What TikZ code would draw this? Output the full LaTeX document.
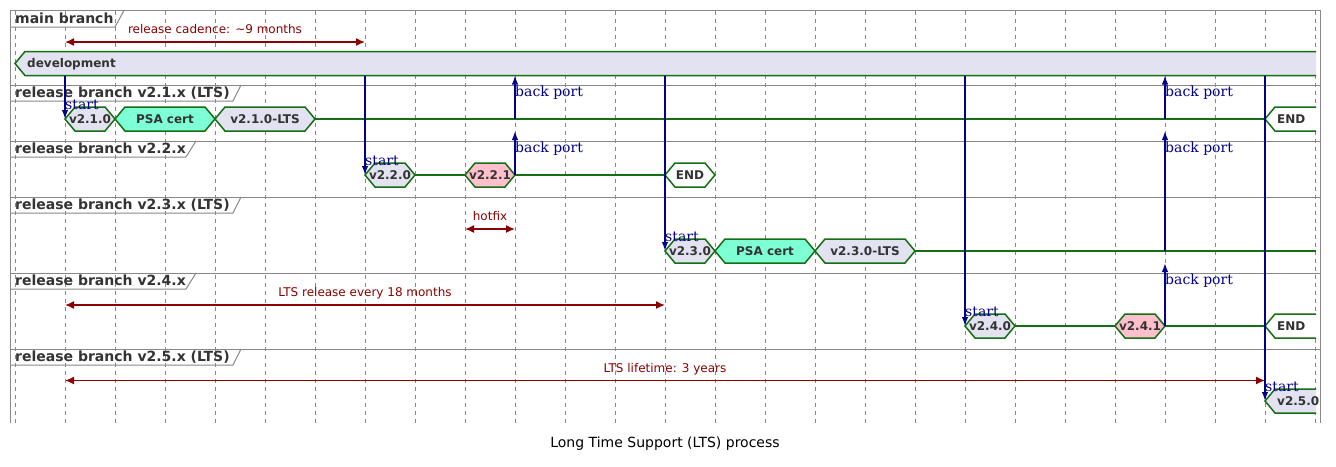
\documentclass[tikz,border=0pt]{standalone}
\usepackage{fontspec}
\setmainfont{DejaVu Sans}
\newfontfamily\notefont{DejaVu Serif}
\usetikzlibrary{arrows.meta,calc}

\definecolor{sigcolor}{RGB}{20,110,20}
\definecolor{lavender}{RGB}{226,226,240}
\definecolor{aqua}{RGB}{127,255,212}
\definecolor{pinkfill}{RGB}{255,192,203}
\definecolor{msgblue}{RGB}{0,0,139}
\definecolor{notered}{RGB}{139,0,0}
\definecolor{titlegray}{RGB}{51,51,51}
\definecolor{framegray}{RGB}{136,136,136}

\tikzset{
  frameline/.style={framegray, line width=1pt},
  gridline/.style={framegray, line width=0.8pt, dash pattern=on 4pt off 4pt},
  stateline/.style={sigcolor, line width=1.5pt, line join=miter},
  sigline/.style={sigcolor, line width=1.5pt},
  statetext/.style={text=titlegray, font=\fontsize{12}{14}\bfseries, inner sep=0pt, text height=8.8pt, text depth=0pt},
  rowtitle/.style={text=titlegray, font=\fontsize{14}{16}\bfseries, inner sep=0pt, anchor=base west},
  msgarrow/.style={msgblue, line width=1.5pt, -{Latex[length=9pt,width=6.5pt]}},
  msglabel/.style={text=msgblue, font=\fontsize{14}{16}\notefont, inner sep=0pt, anchor=base west},
  spanarrow/.style={notered, line width=1.5pt, {Latex[length=9pt,width=8pt]}-{Latex[length=9pt,width=8pt]}},
  spanlabel/.style={text=notered, font=\fontsize{12}{14}\selectfont, inner sep=0pt, text depth=0pt, above=7.5pt},
}

% closed state: name, left, right, y, fill, text
\newcommand{\hexstate}[6]{%
  \draw[stateline,fill=#5] (#2,#4) coordinate (#1-w) -- (#2+\slant,#4-\halfh) -- (#3-\slant,#4-\halfh)
    -- (#3,#4) coordinate (#1-e) -- (#3-\slant,#4+\halfh) -- (#2+\slant,#4+\halfh) -- cycle;
  \node[statetext] (#1) at ({(#2+#3)/2},#4) {#6};
}
% state running past the right edge: name, left, right, y, fill, text
\newcommand{\openstate}[6]{%
  \fill[#5] (#3,#4-\halfh) -- (#2+\slant,#4-\halfh) -- (#2,#4) -- (#2+\slant,#4+\halfh) -- (#3,#4+\halfh) -- cycle;
  \draw[stateline] (#3,#4-\halfh) -- (#2+\slant,#4-\halfh) -- (#2,#4) coordinate (#1-w) -- (#2+\slant,#4+\halfh) -- (#3,#4+\halfh);
  \node[statetext, anchor=west] (#1) at (#2+12,#4) {#6};
}

\begin{document}
\begin{tikzpicture}[x=1pt,y=-1pt]
\useasboundingbox[fill=white] (0,0) rectangle (1336,466);

\pgfmathsetmacro{\slant}{10};
\pgfmathsetmacro{\halfh}{12};

% Grid
\foreach \gx in {15,65,...,1315} \draw[gridline] (\gx,11) -- (\gx,423);

% Frame and rows
\draw[frameline] (10.5,423) -- (10.5,10.5) -- (1320.5,10.5) -- (1320.5,423);
\foreach \ry in {85,141,197,273,349} \draw[frameline] (10.5,\ry) -- (1320.5,\ry);

% Row titles
\node[rowtitle] (tMain) at (15,23.5) {main branch};
\draw[frameline] (10.5,27) -- (115,27) -- (124,10.5);
\node[rowtitle] (t21) at (15,97.8) {release branch v2.1.x (LTS)};
\draw[frameline] (10.5,101) -- (233,101) -- (241,85);
\node[rowtitle] (t22) at (15,153.8) {release branch v2.2.x};
\draw[frameline] (10.5,157) -- (186,157) -- (196,141);
\node[rowtitle] (t23) at (15,209.8) {release branch v2.3.x (LTS)};
\draw[frameline] (10.5,213) -- (233,213) -- (241,197);
\node[rowtitle] (t24) at (15,285.8) {release branch v2.4.x};
\draw[frameline] (10.5,289) -- (186,289) -- (196,273);
\node[rowtitle] (t25) at (15,361.8) {release branch v2.5.x (LTS)};
\draw[frameline] (10.5,365) -- (233,365) -- (241,349);

% main branch
\openstate{dev}{15}{1316}{63.5}{lavender}{development}
\coordinate (dev-s) at (15,75.5);

% v2.1.x
\hexstate{v210}{65}{115}{119}{lavender}{v2.1.0}
\hexstate{psa21}{115}{215}{119}{aqua}{PSA cert}
\hexstate{lts21}{215}{315}{119}{lavender}{v2.1.0-LTS}
\openstate{end21}{1265}{1316}{119}{white}{END}
\draw[sigline] (lts21-e) -- (end21-w);
\coordinate (r21-s) at (15,131);

% v2.2.x
\hexstate{v220}{365}{415}{175}{lavender}{v2.2.0}
\hexstate{v221}{465}{515}{175}{pinkfill}{v2.2.1}
\hexstate{end22}{665}{715}{175}{white}{END}
\draw[sigline] (v220-e) -- (v221-w);
\draw[sigline] (v221-e) -- (end22-w);

% v2.3.x
\hexstate{v230}{665}{715}{251}{lavender}{v2.3.0}
\hexstate{psa23}{715}{815}{251}{aqua}{PSA cert}
\hexstate{lts23}{815}{915}{251}{lavender}{v2.3.0-LTS}
\coordinate (r23-end) at (1316,251);
\draw[sigline] (lts23-e) -- (r23-end);
\coordinate (r23-s) at (15,263);

% v2.4.x
\hexstate{v240}{965}{1015}{326}{lavender}{v2.4.0}
\hexstate{v241}{1115}{1165}{326}{pinkfill}{v2.4.1}
\openstate{end24}{1265}{1316}{326}{white}{END}
\draw[sigline] (v240-e) -- (v241-w);
\draw[sigline] (v241-e) -- (end24-w);

% v2.5.x
\openstate{v250}{1265}{1316}{401}{lavender}{v2.5.0}

% Spans
\coordinate (cad1) at (65,42);
\coordinate (cad2) at (365,42);
\draw[spanarrow] (cad1) -- (cad2) node[spanlabel, midway] (cadlabel) {release cadence: \textasciitilde 9 months};
\coordinate (fix1) at (465,229);
\coordinate (fix2) at (515,229);
\draw[spanarrow] (fix1) -- (fix2) node[spanlabel, midway] (fixlabel) {hotfix};
\coordinate (ltsr1) at (65,305);
\coordinate (ltsr2) at (665,305);
\draw[spanarrow] (ltsr1) -- (ltsr2) node[spanlabel, midway] (ltsrlabel) {LTS release every 18 months};
\coordinate (life1) at (65,380.5);
\coordinate (life2) at (1265,380.5);
\draw[spanarrow] (life1) -- (life2) node[spanlabel, midway] (lifelabel) {LTS lifetime: 3 years};

% start arrows
\draw[msgarrow] (v210-w |- dev-s) -- (v210-w);
\node[msglabel] (st210) at ($(v210-w)+(0,-9.5)$) {start};
\draw[msgarrow] (v220-w |- dev-s) -- (v220-w);
\node[msglabel] (st220) at ($(v220-w)+(0,-9.5)$) {start};
\draw[msgarrow] (v230-w |- dev-s) -- (v230-w);
\node[msglabel] (st230) at ($(v230-w)+(0,-9.5)$) {start};
\draw[msgarrow] (v240-w |- dev-s) -- (v240-w);
\node[msglabel] (st240) at ($(v240-w)+(0,-9.5)$) {start};
\draw[msgarrow] (v250-w |- dev-s) -- (v250-w);
\node[msglabel] (st250) at ($(v250-w)+(0,-9.5)$) {start};

% back ports
\draw[msgarrow] (v221-e) -- (v221-e |- r21-s);
\node[msglabel] (bp221a) at ($(v221-e |- r21-s)+(0,21)$) {back port};
\draw[msgarrow] (v221-e |- lts21-e) -- (v221-e |- dev-s);
\node[msglabel] (bp221b) at ($(v221-e |- dev-s)+(0,21)$) {back port};
\draw[msgarrow] (v241-e) -- (v241-e |- r23-s);
\node[msglabel] (bp241a) at ($(v241-e |- r23-s)+(0,21)$) {back port};
\draw[msgarrow] (v241-e |- r23-end) -- (v241-e |- r21-s);
\node[msglabel] (bp241b) at ($(v241-e |- r21-s)+(0,21)$) {back port};
\draw[msgarrow] (v241-e |- lts21-e) -- (v241-e |- dev-s);
\node[msglabel] (bp241c) at ($(v241-e |- dev-s)+(0,21)$) {back port};

% Caption
\node[font=\fontsize{14}{16}\selectfont] (caption) at (665,444) {Long Time Support (LTS) process};
\end{tikzpicture}
\end{document}
